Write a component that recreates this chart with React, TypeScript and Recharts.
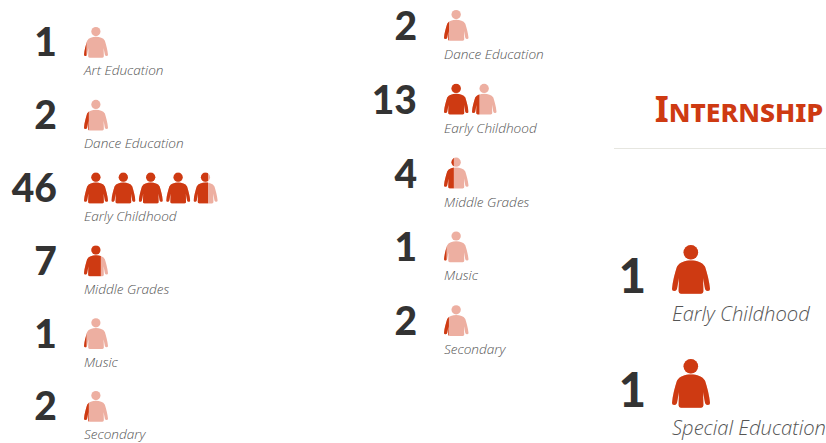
import React from "react";
import { BarChart, Bar, XAxis, YAxis } from "recharts";

const firstCategories = ["Art Education", "Dance Education", "Early Childhood", "Middle Grades", "Music", "Secondary"];
const firstValues = [1, 2, 46, 7, 1, 2];

const secondCategories = ["Dance Education", "Early Childhood", "Middle Grades", "Music", "Secondary"];
const secondValues = [2, 13, 4, 1, 2];

const internshipCategories = ["Early Childhood", "Special Education"];
const internshipValues = [1, 1];

const DARK = "#CE3A12";
const PALE = "#EDAFA1";

// person drawn in a 115x148 box
const BODY =
  "M57 47C75 47 92 52 100 66C106 85 113 110 115 133Q115 139 108 139Q102 139 100 133L94 100L95 140Q95 147 88 147L27 147Q20 147 20 140L21 100L15 133Q13 139 7 139Q0 139 0 133C2 110 9 85 15 66C23 52 40 47 57 47Z";

function Person({ fill }: { fill: string }) {
  return (
    <g fill={fill}>
      <circle cx={57} cy={22} r={22} />
      <path d={BODY} />
    </g>
  );
}

let clipCount = 0;

function PersonRow(props: any) {
  const { x, y, width, height, value, unit, iconWidth } = props;
  const icons = Math.ceil(value / unit);
  const pitch = width / (value / unit);
  const sx = iconWidth / 115;
  const sy = height / 148;
  return (
    <g>
      {Array.from({ length: icons }, (_, i) => {
        const part = Math.min(1, Math.max(0, (width - i * pitch) / pitch));
        const id = `person-clip-${clipCount++}`;
        return (
          <g key={i} transform={`translate(${x + i * pitch} ${y}) scale(${sx} ${sy})`}>
            <clipPath id={id}>
              <rect x={0} y={0} width={115 * part} height={148} />
            </clipPath>
            <Person fill={PALE} />
            <g clipPath={`url(#${id})`}>
              <Person fill={DARK} />
            </g>
          </g>
        );
      })}
    </g>
  );
}

function RowTick(props: any) {
  const { x, y, index, payload, values, numberGap, numberSize, numberDy, nameDy, nameSize } = props;
  return (
    <g>
      <text
        x={x - numberGap}
        y={y + numberDy}
        textAnchor="end"
        fontFamily="Lato"
        fontWeight={900}
        fontSize={numberSize}
        fill="#333333"
      >
        {values[index]}
      </text>
      <text
        x={x}
        y={y + nameDy}
        fontFamily="'Open Sans'"
        fontStyle="italic"
        fontWeight={300}
        fontSize={nameSize}
        fill="#555555"
      >
        {payload.value}
      </text>
    </g>
  );
}

function PersonChart(props: any) {
  const { left, top, width, rowHeight, categories, values, unit, icons, pitch, iconWidth, iconHeight, axisWidth, tick } = props;
  const data = categories.map((name: string, i: number) => ({ name, value: values[i] }));
  return (
    <div style={{ position: "absolute", left, top }}>
      <BarChart
        width={width}
        height={rowHeight * categories.length}
        data={data}
        layout="vertical"
        margin={{ top: 0, bottom: 0, left: 0, right: width - axisWidth - icons * pitch }}
      >
        <XAxis type="number" hide domain={[0, icons * unit]} />
        <YAxis
          type="category"
          dataKey="name"
          width={axisWidth}
          axisLine={false}
          tickLine={false}
          tickSize={0}
          tickMargin={0}
          interval={0}
          tick={<RowTick values={values} {...tick} />}
        />
        <Bar
          dataKey="value"
          barSize={iconHeight}
          isAnimationActive={false}
          shape={<PersonRow unit={unit} iconWidth={iconWidth} />}
        />
      </BarChart>
    </div>
  );
}

const smallTick = { numberGap: 27, numberSize: 39, numberDy: 14, nameDy: 33, nameSize: 13.6 };

export default function App() {
  return (
    <div style={{ position: "absolute", left: 0, top: 0, width: 826, height: 443, overflow: "hidden", background: "#fff" }}>
      <PersonChart
        left={0}
        top={6}
        width={240}
        rowHeight={72.8}
        categories={firstCategories}
        values={firstValues}
        unit={10}
        icons={5}
        pitch={27.4}
        iconWidth={24}
        iconHeight={31}
        axisWidth={84}
        tick={smallTick}
      />
      <PersonChart
        left={360}
        top={-11.4}
        width={240}
        rowHeight={73.8}
        categories={secondCategories}
        values={secondValues}
        unit={10}
        icons={5}
        pitch={28}
        iconWidth={24.5}
        iconHeight={31}
        axisWidth={84}
        tick={smallTick}
      />
      <PersonChart
        left={606}
        top={211.5}
        width={220}
        rowHeight={114}
        categories={internshipCategories}
        values={internshipValues}
        unit={1}
        icons={1}
        pitch={40}
        iconWidth={38}
        iconHeight={49}
        axisWidth={66}
        tick={{ numberGap: 26, numberSize: 47, numberDy: 24, nameDy: 52, nameSize: 20.2 }}
      />
      <div
        style={{
          position: "absolute",
          right: 3,
          top: 85,
          fontFamily: "'Noto Sans'",
          fontWeight: 700,
          fontSize: 31.5,
          fontVariant: "small-caps",
          lineHeight: "48px",
          whiteSpace: "nowrap",
          color: DARK,
        }}
      >
        <span style={{ fontSize: 36 }}>I</span>nternship
      </div>
      <div style={{ position: "absolute", left: 614, top: 148, width: 212, height: 1, background: "#E6E6E0" }} />
    </div>
  );
}
